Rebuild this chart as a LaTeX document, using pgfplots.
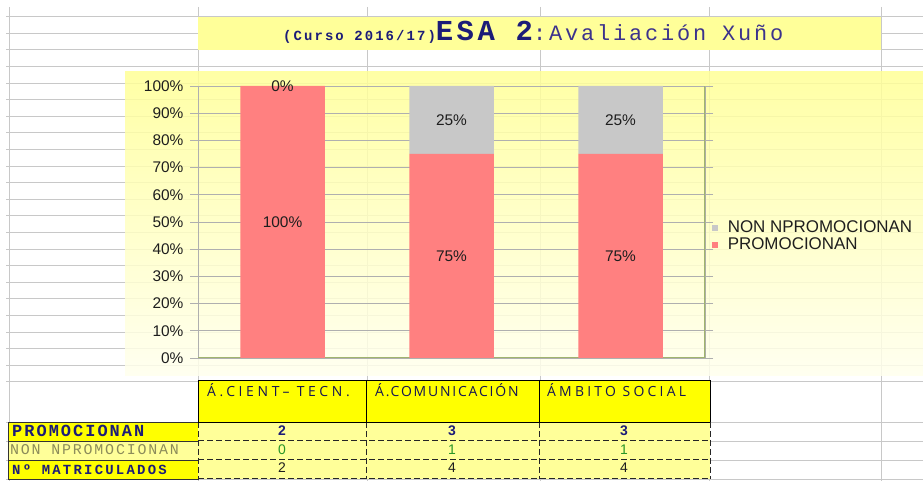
\documentclass[border=0pt]{standalone}
\usepackage{pgfplots}
\pgfplotsset{compat=1.18}
\usepackage{fontspec}
\setmainfont{Liberation Sans}
\newfontfamily\mono{Liberation Mono}
\newfontfamily\hand{Open Sans}
\definecolor{barred}{RGB}{255,128,128}
\definecolor{bargray}{RGB}{200,200,200}
\definecolor{gridc}{RGB}{200,200,200}
\definecolor{plotgrid}{RGB}{175,175,175}
\definecolor{cellyel}{RGB}{255,255,0}
\definecolor{lightyel}{RGB}{255,255,153}
\definecolor{chartyel}{RGB}{255,255,150}
\definecolor{chartlight}{RGB}{255,255,238}
\definecolor{navy}{RGB}{28,28,120}
\definecolor{titleblue}{RGB}{60,50,140}
\definecolor{olivegreen}{RGB}{160,180,110}
\definecolor{olivetext}{RGB}{140,140,90}
\definecolor{valgreen}{RGB}{40,150,40}
\definecolor{txt}{RGB}{30,30,30}
\begin{document}
\begin{tikzpicture}
\useasboundingbox (0,0) rectangle (923bp,481bp);
\fill[white] (0,0) rectangle (923bp,481bp);
\begin{scope}[x=1bp,y=-1bp,shift={(0bp,481bp)}]
  % spreadsheet gridlines
  \foreach \k in {1,...,23} \draw[gridc, line width=0.9bp] (6,{16.6*\k}) -- (923,{16.6*\k});
  \foreach \yy in {422,441,460,479} \draw[gridc, line width=0.9bp] (6,\yy) -- (923,\yy);
  \foreach \xx in {9,198,367,540,709,881} \draw[gridc, line width=0.9bp] (\xx,7) -- (\xx,481);
  % title cell
  \fill[lightyel] (198,17) rectangle (881,50);
  \node[anchor=base west, inner sep=0pt] at (283,41) {\color{navy}{\mono\bfseries\addfontfeatures{LetterSpace=15}\fontsize{14}{14}\selectfont (Curso 2016/17)}{\mono\bfseries\addfontfeatures{LetterSpace=12}\fontsize{29}{29}\selectfont ESA 2}{\color{titleblue}\mono\addfontfeatures{LetterSpace=13}\fontsize{22}{22}\selectfont :Avaliación Xuño}};
  % chart background
  \shade[top color=chartyel, bottom color=chartlight, opacity=0.85] (125,72) rectangle (923,376);
\end{scope}

\begin{axis}[
  at={(198bp,123bp)}, anchor=south west,
  scale only axis, width=507bp, height=272bp,
  xmin=-0.5, xmax=2.5, ymin=0, ymax=100,
  ybar stacked, bar width=84.5bp,
  xtick=\empty,
  ytick={0,10,...,100},
  yticklabel={\pgfmathprintnumber{\tick}\%},
  /pgf/number format/assume math mode=true,
  ymajorgrids, major grid style={draw=plotgrid, line width=0.9bp},
  tick align=outside, major tick length=8bp,
  tick style={draw=plotgrid, line width=0.9bp},
  axis line style={draw=plotgrid, line width=0.9bp},
  ticklabel style={font=\fontsize{15.5}{15.5}\selectfont, text=txt},
  yticklabel style={xshift=-3bp},
  reverse legend,
  legend cell align=left,
  legend style={at={(1.013,0.507)}, anchor=north west, draw=none, fill=none,
    font=\fontsize{17}{17}\selectfont, text=txt, inner sep=0pt, row sep=1bp,
    column sep=8bp,
    nodes={inner sep=2bp, text height=10bp, text depth=2bp}},
  legend image code/.code={\fill[#1] (0bp,-3bp) rectangle (6bp,3bp);},
]
\addplot[fill=barred, draw=none] coordinates {(0,100) (1,75) (2,75)};
\addplot[fill=bargray, draw=none] coordinates {(0,0) (1,25) (2,25)};
\legend{PROMOCIONAN, NON NPROMOCIONAN}
\draw[olivegreen, line width=1.3bp] (rel axis cs:1,0) -- (rel axis cs:1,1);
\draw[olivegreen, line width=1.3bp] (rel axis cs:0,0) -- (rel axis cs:1,0);
\end{axis}

\begin{axis}[
  at={(198bp,123bp)}, anchor=south west,
  scale only axis, width=507bp, height=272bp,
  xmin=-0.5, xmax=2.5, ymin=0, ymax=100, hide axis,
]
\addplot[draw=none, mark=none, only marks, nodes near coords, point meta=explicit symbolic,
  nodes near coords style={anchor=center, font=\fontsize{15.5}{15.5}\selectfont, text=txt}]
  coordinates {(0,100) [0\%] (0,50) [100\%] (1,87.5) [25\%] (1,37.5) [75\%] (2,87.5) [25\%] (2,37.5) [75\%]};
\end{axis}

\begin{scope}[x=1bp,y=-1bp,shift={(0bp,481bp)}]
  % header row
  \fill[cellyel] (198,380) rectangle (710,422);
  \draw[black, line width=0.9bp] (198,380) rectangle (710,422);
  \draw[black, line width=0.9bp] (366,380) -- (366,422) (539,380) -- (539,422);
  \node[anchor=west, inner sep=0pt, text=navy!70!black] at (207,390) {\hand\addfontfeatures{LetterSpace=26}\fontsize{14}{14}\selectfont Á.CIENT– TECN.};
  \node[anchor=west, inner sep=0pt, text=navy!70!black] at (375,390) {\hand\addfontfeatures{LetterSpace=13}\fontsize{14}{14}\selectfont Á.COMUNICACIÓN};
  \node[anchor=west, inner sep=0pt, text=navy!70!black] at (547,390) {\hand\addfontfeatures{LetterSpace=23}\fontsize{14}{14}\selectfont ÁMBITO SOCIAL};
  % label column
  \fill[cellyel] (8,422) rectangle (198,441);
  \fill[lightyel] (8,441) rectangle (198,460);
  \fill[cellyel] (8,460) rectangle (198,479);
  \draw[black!80, line width=0.8bp] (8,422) rectangle (198,479);
  \draw[black!80, line width=0.8bp] (8,441) -- (198,441) (8,460) -- (198,460);
  \node[anchor=base west, inner sep=0pt, text=navy] at (12,437) {\mono\bfseries\addfontfeatures{LetterSpace=12}\fontsize{17}{17}\selectfont PROMOCIONAN};
  \node[anchor=base west, inner sep=0pt, text=olivetext] at (10,455) {\mono\addfontfeatures{LetterSpace=12}\fontsize{15}{15}\selectfont NON NPROMOCIONAN};
  \node[anchor=base west, inner sep=0pt, text=navy] at (12,475) {\mono\bfseries\addfontfeatures{LetterSpace=16}\fontsize{14}{14}\selectfont Nº MATRICULADOS};
  % data cells
  \fill[lightyel] (198,422) rectangle (710,479);
  \foreach \yy in {441,460,479} \draw[black!85, line width=1bp, dash pattern=on 6bp off 3bp] (198,\yy) -- (710,\yy);
  \foreach \xx in {198,366,539,710} \draw[black!85, line width=1bp, dash pattern=on 6bp off 3bp] (\xx,422) -- (\xx,479);
  \draw[black, line width=0.9bp] (198,422) -- (710,422);
  \foreach \xx/\v in {282/2,452/3,624/3} \node[text=navy, font=\bfseries\fontsize{14}{14}\selectfont] at (\xx,431) {\v};
  \foreach \xx/\v in {282/0,452/1,624/1} \node[text=valgreen, font=\fontsize{14}{14}\selectfont] at (\xx,450) {\v};
  \foreach \xx/\v in {282/2,452/4,624/4} \node[text=txt, font=\fontsize{14}{14}\selectfont] at (\xx,468) {\v};
\end{scope}
\end{tikzpicture}
\end{document}
